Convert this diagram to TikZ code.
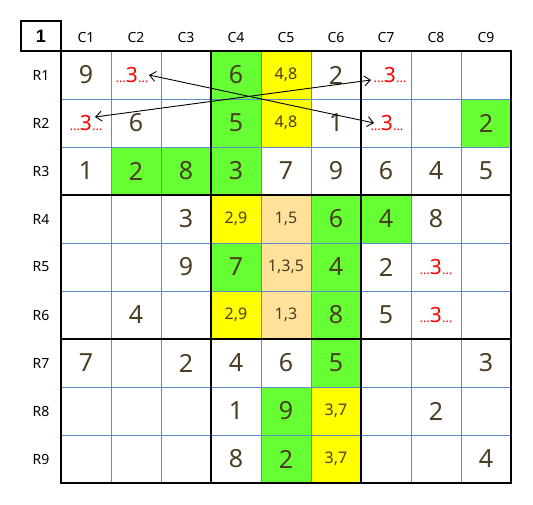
\documentclass[tikz,border=0pt]{standalone}
\usepackage{fontspec}
\setmainfont{Noto Sans}
\newfontfamily\cornerfont{Liberation Sans}
\usetikzlibrary{arrows.meta}
\definecolor{dig}{HTML}{4B3D22}
\definecolor{gr}{HTML}{66FF33}
\definecolor{yl}{HTML}{FFFF00}
\definecolor{orng}{HTML}{FFE19A}
\definecolor{thinc}{HTML}{5B8CC8}
\begin{document}
\begin{tikzpicture}[x=1pt,y=-1pt,
  bigd/.style={text=dig,font=\fontsize{25}{25}\selectfont,inner sep=0pt},
  smalld/.style={text=dig,font=\fontsize{16}{16}\selectfont,inner sep=0pt},
  redd/.style={text=red,font=\fontsize{21}{21}\selectfont,inner sep=0pt},
  hdr/.style={text=black,font=\fontsize{14}{14}\selectfont,inner sep=0pt},
  thinline/.style={draw=thinc,line width=0.9pt},
  thickline/.style={draw=black,line width=2.8pt},
  arr/.style={draw=black,line width=0.9pt,{Straight Barb[length=6pt,width=10pt]}-{Straight Barb[length=6pt,width=10pt]}}]
\useasboundingbox (0,0) rectangle (533,504);
% fills
\foreach \r/\c/\col in {1/4/gr,2/4/gr,3/4/gr,3/2/gr,3/3/gr,2/9/gr,
  1/5/yl,2/5/yl,4/4/yl,6/4/yl,8/6/yl,9/6/yl,
  4/5/orng,5/5/orng,6/5/orng,
  4/6/gr,4/7/gr,5/4/gr,5/6/gr,6/6/gr,7/6/gr,8/5/gr,9/5/gr}
  \fill[\col] ({11+50*\c},{3+48*\r}) rectangle ++(50,48);
% thin grid
\foreach \i in {1,...,8} {
  \draw[thinline] ({61+50*\i},51) -- ({61+50*\i},483);
  \draw[thinline] (61,{51+48*\i}) -- (511,{51+48*\i});
}
% thick lines
\draw[thickline] (61,51) rectangle (511,483);
\draw[thickline] (211,51) -- (211,483);
\draw[thickline] (361,51) -- (361,483);
\draw[thickline] (61,195) -- (511,195);
\draw[thickline] (61,339) -- (511,339);
\draw[thickline] (21,21) rectangle (61,51);
\node[font=\cornerfont\bfseries\fontsize{18}{18}\selectfont,inner sep=0pt] (corner) at (41,36) {1};
% headers
\foreach \i in {1,...,9} {
  \node[hdr] (col\i) at ({36+50*\i},37) {C\i};
  \node[hdr] (row\i) at (41,{27+48*\i}) {R\i};
}
% big digits
\foreach \r/\c/\t in {1/1/9,1/4/6,1/6/2,
  2/2/6,2/4/5,2/6/1,2/9/2,
  3/1/1,3/2/2,3/3/8,3/4/3,3/5/7,3/6/9,3/7/6,3/8/4,3/9/5,
  4/3/3,4/6/6,4/7/4,4/8/8,
  5/3/9,5/4/7,5/6/4,5/7/2,
  6/2/4,6/6/8,6/7/5,
  7/1/7,7/3/2,7/4/4,7/5/6,7/6/5,7/9/3,
  8/4/1,8/5/9,8/8/2,
  9/4/8,9/5/2,9/9/4}
  \node[bigd] (n\r\c) at ({36+50*\c},{27+48*\r}) {\t};
% candidates
\foreach \r/\c/\t in {1/5/{4,8},2/5/{4,8},4/4/{2,9},4/5/{1,5},5/5/{1,3,5},
  6/4/{2,9},6/5/{1,3},8/6/{3,7},9/6/{3,7}}
  \node[smalld] (n\r\c) at ({36+50*\c},{27+48*\r}) {\t};
% red threes
\foreach \r/\c/\dx in {1/2/-4,1/7/4,2/1/0,2/7/1,5/8/0,6/8/0}
  \node[redd] (n\r\c) at ({36+50*\c+\dx},{27+48*\r}) {{\fontsize{13}{13}\selectfont …}3{\fontsize{13}{13}\selectfont …}};
% arrows
\coordinate (a1) at (149,75);
\coordinate (a2) at (374,123);
\coordinate (b1) at (95,117);
\coordinate (b2) at (371,80);
\draw[arr] (a1) -- (a2);
\draw[arr] (b1) -- (b2);
\end{tikzpicture}
\end{document}
